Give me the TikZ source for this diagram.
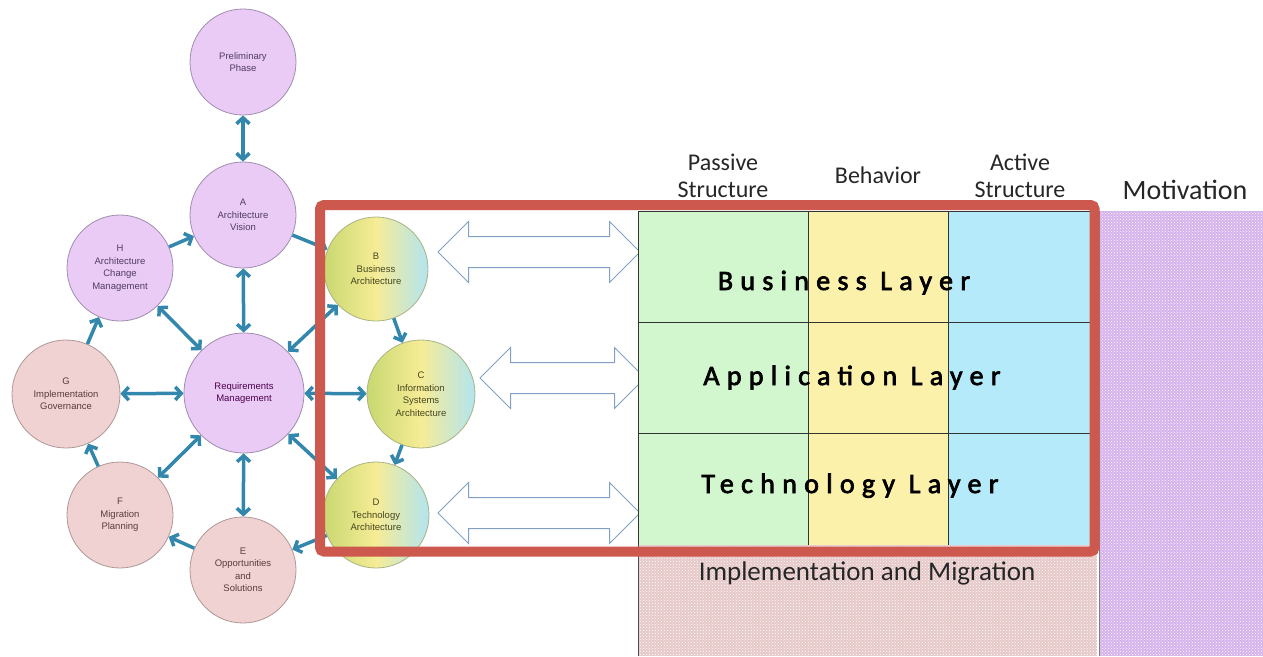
\documentclass[tikz,border=0pt]{standalone}
\usepackage{fontspec}
\setmainfont{Liberation Sans}
\newfontfamily\calibri{Carlito}
\newfontfamily\calibriwide[LetterSpace=26, FakeBold=2.5]{Carlito}
\usetikzlibrary{shapes.arrows,arrows.meta,patterns,positioning}

\definecolor{phasefill}{RGB}{233,203,245}
\definecolor{phaseline}{RGB}{160,140,175}
\definecolor{phasetext}{RGB}{80,60,100}
\definecolor{migfill}{RGB}{240,210,210}
\definecolor{migline}{RGB}{175,150,150}
\definecolor{migtext}{RGB}{90,60,60}
\definecolor{archleft}{RGB}{200,216,112}
\definecolor{archmid}{RGB}{246,236,150}
\definecolor{archright}{RGB}{178,228,240}
\definecolor{archline}{RGB}{170,180,130}
\definecolor{archtext}{RGB}{70,70,30}
\definecolor{linkblue}{RGB}{52,135,172}
\definecolor{hollowedge}{RGB}{130,160,195}
\definecolor{framered}{RGB}{205,88,78}
\definecolor{passivegreen}{RGB}{210,246,206}
\definecolor{behavioryellow}{RGB}{252,241,170}
\definecolor{activeblue}{RGB}{180,234,250}
\definecolor{implpink}{RGB}{231,200,200}
\definecolor{motivpurple}{RGB}{214,178,236}

\tikzset{>={Straight Barb[length=6pt,width=13pt]}}

\begin{document}
\begin{tikzpicture}[x=1pt, y=-1pt,
    phase/.style={circle, draw=phaseline, fill=phasefill, line width=0.8pt, minimum size=106pt, inner sep=0pt, align=center, text=phasetext, font=\fontsize{9.5}{12.5}\selectfont},
    migphase/.style={phase, draw=migline, fill=migfill, text=migtext},
    archphase/.style={phase, draw=archline, left color=archleft, right color=archright, middle color=archmid, text=archtext},
    flow/.style={draw=linkblue, line width=3.5pt, ->},
    twoway/.style={flow, <->},
    hollow/.style={double arrow, draw=hollowedge, fill=white, line width=1pt, double arrow head extend=15pt, inner xsep=0pt, inner ysep=15pt},
    dotted area/.style={postaction={pattern=crosshatch dots, pattern color=white}},
    header/.style={align=center, text=black!85, font=\calibri\fontsize{24}{27}\selectfont},
    layer/.style={anchor=base, font=\calibriwide\fontsize{28}{30}\selectfont}]
    \useasboundingbox (0,0) rectangle (1263,656);

    % ADM cycle
    \node[phase] (prelim) at (243,62) {Preliminary\\Phase};
    \node[phase] (vision) at (243,215) {A\\Architecture\\Vision};
    \node[phase] (change) at (120,268) {H\\Architecture\\Change\\Management};
    \node[archphase, minimum size=104pt] (business) at (376,269) {B\\Business\\Architecture};
    \node[phase, minimum size=120pt, text=violet!60!black] (reqs) at (244,393) {Requirements\\Management};
    \node[migphase, minimum size=108pt] (governance) at (66,394) {G\\Implementation\\Governance};
    \node[archphase, minimum size=108pt] (infosys) at (421,394) {C\\Information\\Systems\\Architecture};
    \node[migphase] (migration) at (120,515) {F\\Migration\\Planning};
    \node[archphase] (technology) at (376,515) {D\\Technology\\Architecture};
    \node[migphase] (opportunities) at (243,570) {E\\Opportunities\\and\\Solutions};

    \draw[twoway] (prelim) -- (vision);
    \draw[twoway] (vision) -- (reqs);
    \draw[twoway] (reqs) -- (change);
    \draw[twoway] (reqs) -- (business);
    \draw[twoway] (reqs) -- (governance);
    \draw[twoway] (reqs) -- (infosys);
    \draw[twoway] (reqs) -- (migration);
    \draw[twoway] (reqs) -- (technology);
    \draw[twoway] (reqs) -- (opportunities);

    \draw[flow] (vision) -- (business);
    \draw[flow] (business) -- (infosys);
    \draw[flow] (infosys) -- (technology);
    \draw[flow] (technology) -- (opportunities);
    \draw[flow] (opportunities) -- (migration);
    \draw[flow] (migration) -- (governance);
    \draw[flow] (governance) -- (change);
    \draw[flow] (change) -- (vision);

    % mapping arrows
    \node[hollow, minimum height=202pt] (bizlink) at (539,252) {};
    \node[hollow, minimum height=165pt] (applink) at (562.5,378) {};
    \node[hollow, minimum height=202pt] (techlink) at (539,513) {};

    % ArchiMate framework
    \fill[passivegreen] (638,211) rectangle (808,545);
    \fill[behavioryellow] (808,211) rectangle (948,545);
    \fill[activeblue] (948,211) rectangle (1090,545);
    \draw[line width=1pt, black!80] (638,211) rectangle (1090,545);
    \foreach \y in {322,433}
        \draw[line width=1pt, black!80] (638,\y) -- (1090,\y);
    \foreach \x in {808,948}
        \draw[line width=1pt, black!80] (\x,211) -- (\x,545);

    \fill[implpink, dotted area] (638,545) rectangle (1097,656);
    \draw[line width=0.8pt, black!70] (638,545) -- (638,656);
    \fill[motivpurple, dotted area] (1099,211) rectangle (1263,656);
    \draw[line width=0.6pt, black!50] (1099,211) -- (1099,656);

    \node[header] (passive) at (723,176) {Passive\\Structure};
    \node[header] (behavior) at (878,175) {Behavior};
    \node[header] (active) at (1020,176) {Active\\Structure};
    \node[header, font=\calibri\fontsize{28}{30}\selectfont] (motivation) at (1185,190) {Motivation};
    \node[header, anchor=base, font=\calibri\fontsize{27}{30}\selectfont] (implementation) at (867,580) {Implementation and Migration};

    \node[layer] (businesslayer) at (844,290) {Business Layer};
    \node[layer] (applicationlayer) at (852,385) {Application Layer};
    \node[layer] (technologylayer) at (850,493) {Technology Layer};

    \draw[framered, line width=10pt, rounded corners=4pt] (320,205) rectangle (1094.5,551.5);
\end{tikzpicture}
\end{document}
